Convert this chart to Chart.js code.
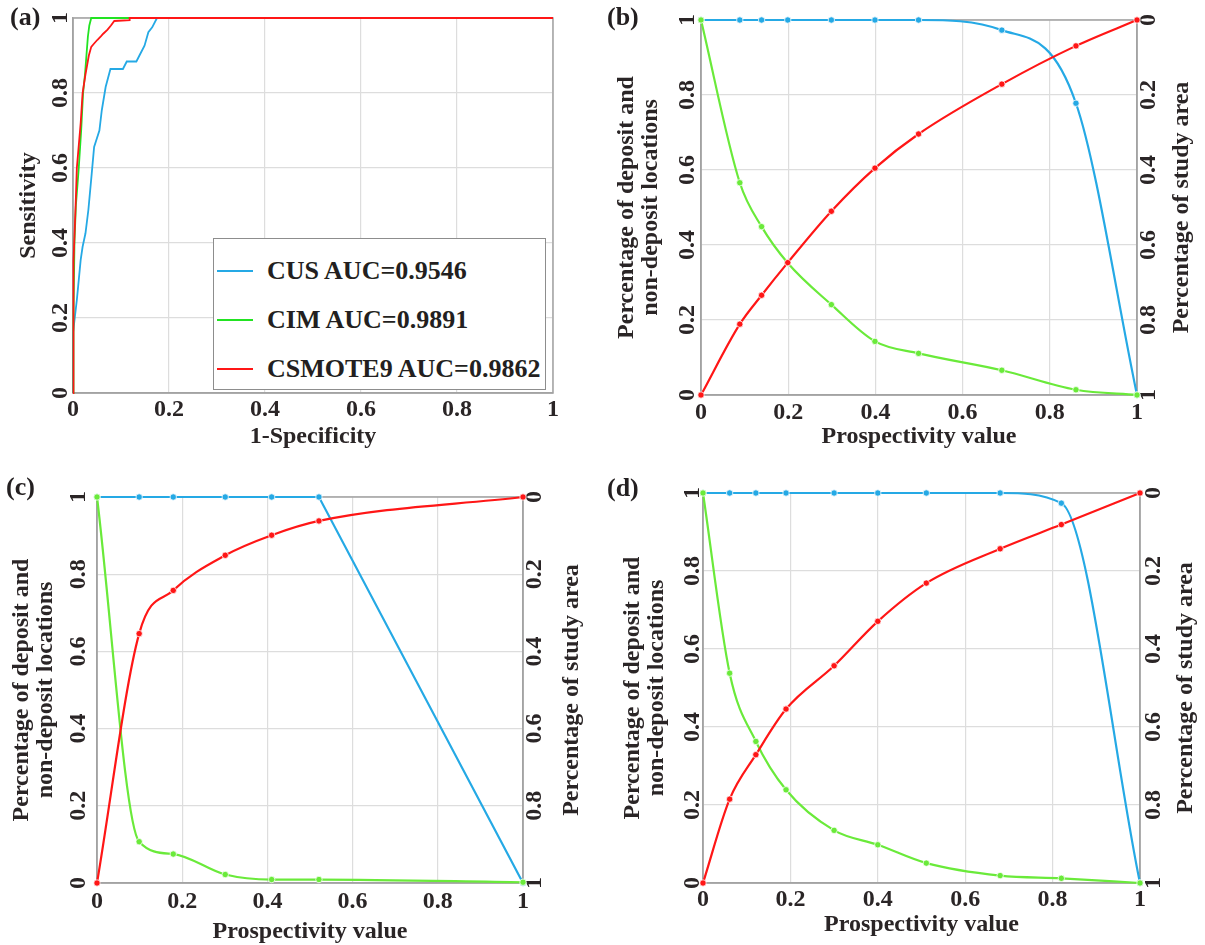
<!DOCTYPE html>
<html>
<head>
<meta charset="utf-8">
<title>ROC curves and prediction-area plots</title>
<script src="https://cdn.jsdelivr.net/npm/chart.js@4.4.1/dist/chart.umd.min.js"></script>
<style>
  html, body { margin: 0; padding: 0; background: #fff; }
  #page { position: relative; width: 1205px; height: 945px; overflow: hidden; }
  .panel { position: absolute; }
  .tag { position: absolute; font: bold 26px "Liberation Serif", "Times New Roman", serif; color: #231f20; }
  #legendA { position: absolute; left: 213px; top: 238px; width: 333px; height: 152px;
             box-sizing: border-box; border: 1.5px solid #8d8d8d; background: #fff; }
  #legendA .row { position: absolute; left: 0; height: 30px; display: flex; align-items: center;
                  font: bold 26px "Liberation Serif", "Times New Roman", serif; color: #231f20; }
  #legendA .swatch { display: inline-block; width: 36px; height: 2px; margin: 0 14px 0 3px; }
</style>
</head>
<body>
<div id="page">
  <div class="panel" style="left:0;top:0"><canvas id="chartA"></canvas></div>
  <div class="panel" style="left:600px;top:0"><canvas id="chartB"></canvas></div>
  <div class="panel" style="left:0;top:470px"><canvas id="chartC"></canvas></div>
  <div class="panel" style="left:600px;top:470px"><canvas id="chartD"></canvas></div>
  <div id="legendA"></div>
  <div class="tag" style="left:10px;top:2px">(a)</div>
  <div class="tag" style="left:607px;top:2px">(b)</div>
  <div class="tag" style="left:6px;top:472px">(c)</div>
  <div class="tag" style="left:607px;top:473px">(d)</div>
</div>
<script>
// (a) ROC curves: 1-specificity vs sensitivity
const cusFpr = [0, 0, 0.008, 0.016, 0.02, 0.026, 0.032, 0.039, 0.044, 0.055, 0.06, 0.068, 0.078, 0.104, 0.112, 0.132, 0.14, 0.149, 0.157, 0.165, 0.175, 1];
const cusTpr = [0, 0.16, 0.248, 0.355, 0.39, 0.426, 0.488, 0.585, 0.656, 0.7, 0.754, 0.816, 0.864, 0.864, 0.884, 0.884, 0.904, 0.926, 0.962, 0.975, 1, 1];
const cimFpr = [0, 0.001, 0.003, 0.006, 0.012, 0.017, 0.021, 0.025, 0.028, 0.031, 0.034, 0.038, 1];
const cimTpr = [0, 0.2, 0.4, 0.5, 0.6, 0.7, 0.8, 0.85, 0.9, 0.95, 0.98, 1, 1];
const smoteFpr = [0, 0, 0.002, 0.004, 0.006, 0.008, 0.012, 0.016, 0.02, 0.026, 0.033, 0.038, 0.044, 0.051, 0.058, 0.063, 0.072, 0.079, 0.086, 0.118, 0.118, 1];
const smoteTpr = [0, 0.15, 0.35, 0.45, 0.52, 0.6, 0.66, 0.72, 0.8, 0.85, 0.9, 0.923, 0.932, 0.942, 0.951, 0.958, 0.969, 0.98, 0.992, 0.994, 1, 1];
const rocLabels = ['CUS AUC=0.9546', 'CIM AUC=0.9891', 'CSMOTE9 AUC=0.9862'];

// (b) prediction-area curves
const pvB = [0, 0.089, 0.139, 0.199, 0.299, 0.399, 0.499, 0.69, 0.86, 1];
const depositB = [1, 1, 1, 1, 1, 1, 1, 0.973, 0.778, 0];
const nonDepositB = [1, 0.566, 0.449, 0.352, 0.241, 0.143, 0.111, 0.066, 0.014, 0];
const areaB = [1, 0.811, 0.734, 0.647, 0.51, 0.395, 0.304, 0.171, 0.069, 0];

// (c)
const pvC = [0, 0.099, 0.179, 0.301, 0.41, 0.521, 1];
const depositC = [1, 1, 1, 1, 1, 1, 0];
const nonDepositC = [1, 0.107, 0.075, 0.022, 0.009, 0.009, 0.002];
const areaC = [1, 0.354, 0.242, 0.151, 0.099, 0.062, 0];

// (d)
const pvD = [0, 0.061, 0.121, 0.19, 0.3, 0.4, 0.511, 0.68, 0.82, 1];
const depositD = [1, 1, 1, 1, 1, 1, 1, 1, 0.974, 0];
const nonDepositD = [1, 0.538, 0.363, 0.239, 0.135, 0.098, 0.051, 0.019, 0.012, 0];
const areaD = [1, 0.785, 0.671, 0.554, 0.443, 0.329, 0.231, 0.143, 0.081, 0];

const unitTicks = [0, 0.2, 0.4, 0.6, 0.8, 1];

const FONT = '"Liberation Serif", "Times New Roman", serif';
const INK = '#2a2526';
const GRID = '#dddddd';
const FRAME = '#a3a3a3';
const BLUE = '#25a9e5';
const GREEN_ROC = '#22e322';
const GREEN = '#6aea3a';
const RED = '#ff1616';
const TICK_SIZE = 24;

Chart.defaults.font.family = FONT;
Chart.defaults.font.weight = 'bold';
Chart.defaults.color = INK;
Chart.defaults.animation = false;

const zip = (xs, ys) => xs.map((x, i) => ({ x: x, y: ys[i] }));
const fmt = v => String(+Number(v).toFixed(1));

// grey box round the plotting area
const framePlugin = {
    id: 'frame',
    beforeDatasetsDraw(chart) {
        const { ctx, chartArea: a } = chart;
        ctx.save();
        ctx.strokeStyle = FRAME;
        ctx.lineWidth = 1.5;
        ctx.strokeRect(a.left, a.top, a.right - a.left, a.bottom - a.top);
        ctx.restore();
    }
};

// right-hand axis title, read bottom to top like the left one
const sideTitlePlugin = {
    id: 'sideTitle',
    afterDraw(chart, args, opts) {
        if (!opts || !opts.text) return;
        const { ctx, chartArea: a } = chart;
        ctx.save();
        ctx.translate(opts.x, (a.top + a.bottom) / 2);
        ctx.rotate(-Math.PI / 2);
        ctx.font = 'bold 24px ' + FONT;
        ctx.fillStyle = INK;
        ctx.textAlign = 'center';
        ctx.textBaseline = 'middle';
        ctx.fillText(opts.text, 0, 0);
        ctx.restore();
    }
};

function unitAxis(extra) {
    return Object.assign({
        type: 'linear',
        min: 0,
        max: 1,
        afterBuildTicks: s => { s.ticks = unitTicks.map(v => ({ value: v })); },
        grid: { color: GRID, lineWidth: 1.2, drawTicks: false },
        border: { color: FRAME, width: 1.5 }
    }, extra);
}

function buildScales(g, xTitle, yTitle, withArea) {
    const scales = {
        x: unitAxis({
            afterFit: s => { s.height = g.h - g.bottom; },
            ticks: { font: { size: TICK_SIZE }, padding: g.xTickPad, maxRotation: 0, autoSkip: false, callback: fmt },
            title: { display: true, text: xTitle, font: { size: 24, lineHeight: 1 }, padding: { top: 0, bottom: g.xTitlePad } }
        }),
        y: unitAxis({
            afterFit: s => { s.width = g.left; },
            ticks: { font: { size: TICK_SIZE }, padding: g.yTickPad, minRotation: 90, maxRotation: 90, crossAlign: 'center', autoSkip: false, callback: fmt },
            title: { display: true, text: yTitle, font: { size: 24, lineHeight: 1 }, padding: { top: g.yTitlePad, bottom: 0 } }
        })
    };
    if (withArea) {
        scales.y2 = unitAxis({
            position: 'right',
            reverse: true,
            afterFit: s => { s.width = g.w - g.right; },
            grid: { display: false, drawTicks: false },
            ticks: { font: { size: TICK_SIZE }, padding: g.y2TickPad, minRotation: 90, maxRotation: 90, crossAlign: 'center', autoSkip: false, callback: fmt }
        });
    }
    return scales;
}

function makeChart(id, g, datasets, xTitle, yTitle, areaTitle) {
    const canvas = document.getElementById(id);
    canvas.width = g.w;
    canvas.height = g.h;
    return new Chart(canvas, {
        type: 'line',
        data: { datasets: datasets },
        options: {
            responsive: false,
            parsing: false,
            layout: { padding: { left: 0, top: g.top, right: areaTitle ? 0 : g.w - g.right, bottom: 0 } },
            scales: buildScales(g, xTitle, yTitle, !!areaTitle),
            plugins: {
                legend: { display: false },
                tooltip: { enabled: false },
                sideTitle: areaTitle ? { text: areaTitle, x: g.areaTitleX } : {}
            }
        },
        plugins: [framePlugin, sideTitlePlugin]
    });
}

function rocSeries(label, xs, ys, color) {
    return {
        label: label,
        data: zip(xs, ys),
        borderColor: color,
        backgroundColor: color,
        borderWidth: 1.8,
        pointRadius: 0,
        tension: 0,
        clip: false
    };
}

function paSeries(label, xs, ys, color, axis, straight) {
    const s = {
        label: label,
        data: zip(xs, ys),
        yAxisID: axis,
        borderColor: color,
        backgroundColor: color,
        borderWidth: 2.2,
        pointRadius: 3.2,
        pointBackgroundColor: color,
        pointBorderColor: 'rgba(255,255,255,0.75)',
        pointBorderWidth: 1,
        clip: false
    };
    if (straight) {
        s.tension = 0;
    } else {
        s.cubicInterpolationMode = 'monotone';
    }
    return s;
}

function paDatasets(pv, deposit, nonDeposit, area, straightDeposit) {
    return [
        paSeries('Percentage of study area', pv, area, RED, 'y2'),
        paSeries('Non-deposit locations', pv, nonDeposit, GREEN, 'y'),
        paSeries('Deposit locations', pv, deposit, BLUE, 'y', straightDeposit)
    ];
}

const paTitle = ['Percentage of deposit and', 'non-deposit locations'];
const pvTitle = 'Prospectivity value';
const areaTitle = 'Percentage of study area';

const geoA = { w: 600, h: 470, left: 73, right: 553, top: 18, bottom: 393, xTickPad: 2, xTitlePad: 21, yTickPad: -3, yTitlePad: 17 };
const geoB = { w: 605, h: 470, left: 101, right: 537, top: 20, bottom: 395, xTickPad: 3, xTitlePad: 21, yTickPad: -2, yTitlePad: 15, y2TickPad: -3, areaTitleX: 582 };
const geoC = { w: 600, h: 475, left: 97, right: 523, top: 27, bottom: 413, xTickPad: 4, xTitlePad: 1, yTickPad: 3, yTitlePad: 10, y2TickPad: -3, areaTitleX: 572 };
const geoD = { w: 605, h: 475, left: 103, right: 540, top: 23, bottom: 413, xTickPad: 2, xTitlePad: 8, yTickPad: -5, yTitlePad: 21, y2TickPad: -1, areaTitleX: 586 };

const chartA = makeChart('chartA', geoA, [
    rocSeries(rocLabels[2], smoteFpr, smoteTpr, RED),
    rocSeries(rocLabels[1], cimFpr, cimTpr, GREEN_ROC),
    rocSeries(rocLabels[0], cusFpr, cusTpr, BLUE)
], '1-Specificity', 'Sensitivity', null);

makeChart('chartB', geoB, paDatasets(pvB, depositB, nonDepositB, areaB, false), pvTitle, paTitle, areaTitle);
makeChart('chartC', geoC, paDatasets(pvC, depositC, nonDepositC, areaC, true), pvTitle, paTitle, areaTitle);
makeChart('chartD', geoD, paDatasets(pvD, depositD, nonDepositD, areaD, false), pvTitle, paTitle, areaTitle);

// legend box inside panel (a), listed CUS, CIM, CSMOTE9
(function () {
    const box = document.getElementById('legendA');
    const sets = chartA.data.datasets.slice().reverse();
    sets.forEach((ds, i) => {
        const row = document.createElement('div');
        row.className = 'row';
        row.style.top = (17 + i * 49) + 'px';
        const sw = document.createElement('span');
        sw.className = 'swatch';
        sw.style.background = ds.borderColor;
        row.appendChild(sw);
        row.appendChild(document.createTextNode(ds.label));
        box.appendChild(row);
    });
})();
</script>
</body>
</html>
